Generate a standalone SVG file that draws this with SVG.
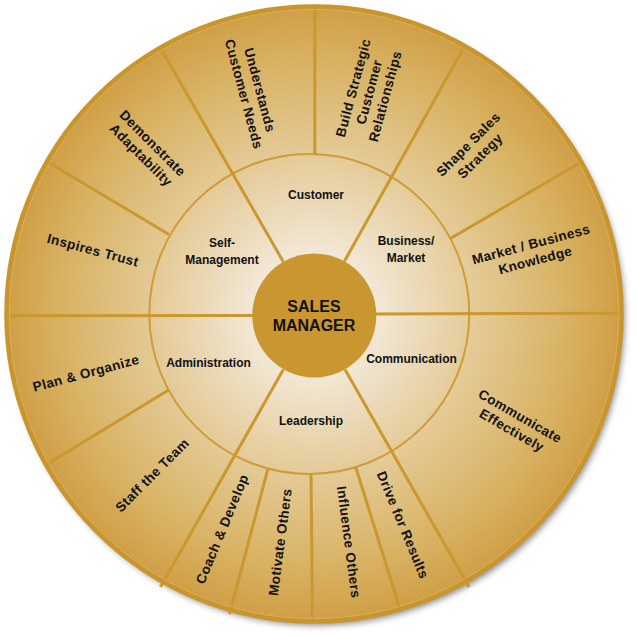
<svg xmlns="http://www.w3.org/2000/svg" width="638" height="636" viewBox="0 0 638 636">
  <defs>
    <radialGradient id="disk" gradientUnits="userSpaceOnUse" cx="314" cy="314" r="309">
      <stop offset="0" stop-color="#F8F3EA"/>
      <stop offset="0.22" stop-color="#F1E6D2"/>
      <stop offset="0.52" stop-color="#E4CA96"/>
      <stop offset="0.8" stop-color="#D9B466"/>
      <stop offset="1" stop-color="#CF9E45"/>
    </radialGradient>
    <filter id="shadow" x="-10%" y="-10%" width="120%" height="120%">
      <feDropShadow dx="3" dy="4" stdDeviation="3" flood-color="#000" flood-opacity="0.45"/>
    </filter>
    <style>
      .spoke { stroke: #CB982F; stroke-width: 3; fill: none; stroke-linecap: butt; }
      .ring { stroke: #CF9C38; stroke-width: 2; fill: none; }
      .outer { font-family: "Liberation Sans", Arial, sans-serif; font-weight: bold; font-size: 13.5px; letter-spacing: 0.4px; fill: #111; text-anchor: middle; }
      .inner { font-family: "Liberation Sans", Arial, sans-serif; font-weight: bold; font-size: 12px; fill: #111; text-anchor: middle; }
      .hub { font-family: "Liberation Sans", Arial, sans-serif; font-weight: bold; font-size: 16px; fill: #111; text-anchor: middle; }
    </style>
  </defs>

  <!-- disk background with shadow -->
  <circle cx="314" cy="314" r="307.5" fill="url(#disk)" filter="url(#shadow)"/>

  <!-- connectors / dividers -->
  <g id="connectors">
    <circle class="ring" cx="309.3" cy="314" r="160"/>
    <!-- full spokes -->
    <line class="spoke" x1="253" y1="315.5" x2="6" y2="315.8"/>
    <line class="spoke" x1="375" y1="314" x2="622" y2="313.3"/>
    <line class="spoke" x1="344.4" y1="261.3" x2="464.8" y2="45.8"/>
    <line class="spoke" x1="283.3" y1="261.8" x2="160.2" y2="47.5"/>
    <line class="spoke" x1="283.3" y1="369.5" x2="160.5" y2="587"/>
    <line class="spoke" x1="345" y1="369.5" x2="469" y2="587"/>
    <!-- outer-only spokes -->
    <line class="spoke" x1="314.8" y1="154" x2="314.8" y2="6"/>
    <line class="spoke" x1="450" y1="238.8" x2="583" y2="161"/>
    <line class="spoke" x1="169" y1="234.5" x2="47" y2="161.5"/>
    <line class="spoke" x1="169" y1="389.8" x2="45" y2="465.5"/>
    <line class="spoke" x1="268" y1="468.5" x2="229.5" y2="614"/>
    <line class="spoke" x1="311" y1="473" x2="312.5" y2="622"/>
    <line class="spoke" x1="355.5" y1="466.5" x2="401" y2="612"/>
  </g>

  <!-- outer border -->
  <circle cx="314" cy="314" r="307.5" fill="none" stroke="#C9962E" stroke-width="4.5"/>
  <circle cx="314" cy="314" r="304.6" fill="none" stroke="#DDB866" stroke-width="1" opacity="0.6"/>

  <!-- hub -->
  <g id="sales-manager">
    <circle cx="314.3" cy="315.5" r="62" fill="#C9962F"/>
    <text class="hub" x="314" y="311.5">SALES</text>
    <text class="hub" x="314" y="331">MANAGER</text>
  </g>

  <!-- inner sectors -->
  <g id="customer"><text class="inner" x="316" y="198.5">Customer</text></g>
  <g id="business-market"><text class="inner" x="406" y="245">Business/</text><text class="inner" x="406" y="262">Market</text></g>
  <g id="communication"><text class="inner" x="411.5" y="363">Communication</text></g>
  <g id="leadership"><text class="inner" x="311" y="425">Leadership</text></g>
  <g id="administration"><text class="inner" x="208.5" y="367">Administration</text></g>
  <g id="self-management"><text class="inner" x="222" y="247">Self-</text><text class="inner" x="222" y="264">Management</text></g>

  <!-- outer sectors -->
  <g id="understands-customer-needs" transform="translate(252,92) rotate(75)">
    <text class="outer" x="0" y="-3.4">Understands</text>
    <text class="outer" x="0" y="13.1">Customer Needs</text>
  </g>
  <g id="build-strategic-customer-relationships" transform="translate(369,92) rotate(-75)">
    <text class="outer" x="0" y="-11.7">Build Strategic</text>
    <text class="outer" x="0" y="4.8">Customer</text>
    <text class="outer" x="0" y="21.3">Relationships</text>
  </g>
  <g id="shape-sales-strategy" transform="translate(474,150) rotate(-45)">
    <text class="outer" x="0" y="-3.4">Shape Sales</text>
    <text class="outer" x="0" y="13.1">Strategy</text>
  </g>
  <g id="market-business-knowledge" transform="translate(533,252) rotate(-15)">
    <text class="outer" x="0" y="-3.4">Market / Business</text>
    <text class="outer" x="0" y="13.1">Knowledge</text>
  </g>
  <g id="communicate-effectively" transform="translate(516,423) rotate(30)">
    <text class="outer" x="0" y="-3.4">Communicate</text>
    <text class="outer" x="0" y="13.1">Effectively</text>
  </g>
  <g id="drive-for-results" transform="translate(403,525) rotate(67.5)">
    <text class="outer" x="0" y="4.8">Drive for Results</text>
  </g>
  <g id="influence-others" transform="translate(349,542) rotate(82.5)">
    <text class="outer" x="0" y="4.8">Influence Others</text>
  </g>
  <g id="motivate-others" transform="translate(280,542) rotate(-82.5)">
    <text class="outer" x="0" y="4.8">Motivate Others</text>
  </g>
  <g id="coach-develop" transform="translate(222,529) rotate(-67.5)">
    <text class="outer" x="0" y="4.8">Coach &amp; Develop</text>
  </g>
  <g id="staff-the-team" transform="translate(152,475) rotate(-45)">
    <text class="outer" x="0" y="4.8">Staff the Team</text>
  </g>
  <g id="plan-organize" transform="translate(86,373) rotate(-15)">
    <text class="outer" x="0" y="4.8">Plan &amp; Organize</text>
  </g>
  <g id="inspires-trust" transform="translate(93,250) rotate(15)">
    <text class="outer" x="0" y="4.8">Inspires Trust</text>
  </g>
  <g id="demonstrate-adaptability" transform="translate(147,149) rotate(45)">
    <text class="outer" x="0" y="-3.4">Demonstrate</text>
    <text class="outer" x="0" y="13.1">Adaptability</text>
  </g>
</svg>
